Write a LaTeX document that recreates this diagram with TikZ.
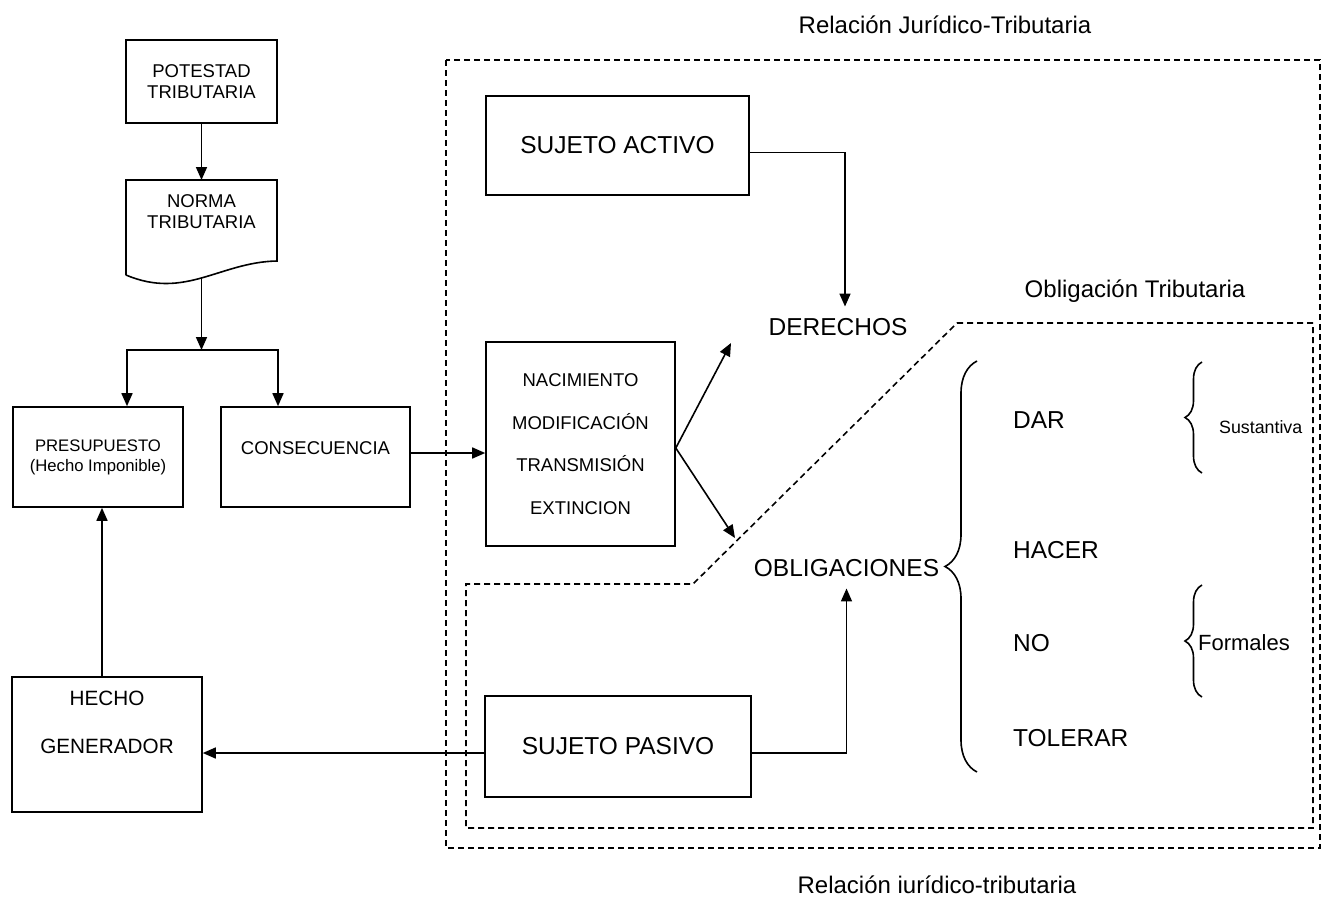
\documentclass[tikz,border=0pt]{standalone}
\usepackage{fontspec}
\setmainfont{Liberation Sans}
\usetikzlibrary{arrows.meta,calc,decorations.pathreplacing}

\begin{document}
\begin{tikzpicture}[x=1pt, y=-1pt, line width=1.6pt,
  box/.style={draw, align=center, inner sep=0pt},
  arr/.style={-{Triangle[length=13pt,width=11pt]}},
  zone/.style={dash pattern=on 6pt off 4pt, line width=1.6pt},
  brc/.style={decorate, decoration={brace, amplitude=#1}},
  word/.style={font=\fontsize{24.5}{29}\selectfont},
  ttl/.style={font=\fontsize{24}{29}\selectfont},
  med/.style={font=\fontsize{18.5}{21}\selectfont}]
  \fill[white] (0,0) rectangle (1323,903);
  \useasboundingbox (0,0) rectangle (1323,903);

  % left column
  \node[box, med, minimum width=151pt, minimum height=83pt] (pot) at (201.5,81.5) {POTESTAD\\TRIBUTARIA};
  \node[med, align=center] (norma) at (201.5,211.5) {NORMA\\TRIBUTARIA};
  \draw (126,275) -- (126,180) -- (277,180) -- (277,261)
    .. controls (220,262) and (185,300) .. (126,275);
  \coordinate (normaTop) at (201.5,180);
  \coordinate (normaBot) at (201.5,277.5);
  \coordinate (split) at (201.5,350);
  \node[box, font=\fontsize{16.7}{20}\selectfont, minimum width=170pt, minimum height=100pt]
    (pres) at (98,457) {PRESUPUESTO\\(Hecho Imponible)};
  \node[box, minimum width=189pt, minimum height=100pt,
    label={[med, yshift=9pt]center:CONSECUENCIA}] (cons) at (315.5,457) {};
  \node[box, minimum width=190pt, minimum height=135pt,
    label={[font=\fontsize{20.7}{48}\selectfont, align=center, yshift=22.5pt]center:{HECHO\\GENERADOR}}]
    (hecho) at (107,744.5) {};

  \draw[arr] (pot.south) -- (normaTop);
  \draw[arr] (normaBot) -- (split);
  \draw[arr] (split) -| ($(pres.north)+(29,0)$);
  \draw[arr] (split) -| ($(cons.north)+(-37.5,0)$);
  \draw[arr] ($(hecho.north)+(-5,0)$) -- ($(pres.south)+(4,0)$);

  % relacion juridico-tributaria
  \draw[zone] (446,60) rectangle (1320,848);
  \draw[zone] (957,323) -- (1313,323) -- (1313,828) -- (466,828) -- (466,584) -- (693,584) -- cycle;
  \node[ttl, anchor=base] (relTop) at (945,33) {Relación Jurídico-Tributaria};
  \node[ttl, anchor=base] (oblTitle) at (1135,297) {Obligación Tributaria};
  \node[ttl, anchor=base] (relBot) at (937,893) {Relación iurídico-tributaria};

  \node[box, word, minimum width=263pt, minimum height=99pt] (sa) at (617.5,145.5) {SUJETO ACTIVO};
  \node[box, word, minimum width=266pt, minimum height=101pt] (sp) at (618,746.5) {SUJETO PASIVO};
  \node[box, font=\fontsize{18.5}{42.7}\selectfont, minimum width=189pt, minimum height=204pt]
    (nac) at (580.5,444) {NACIMIENTO\\MODIFICACIÓN\\TRANSMISIÓN\\EXTINCION};
  \node[word, inner sep=11pt] (der) at (838,327) {DERECHOS};
  \node[word, inner sep=11pt] (obl) at (846.5,568) {OBLIGACIONES};
  \coordinate (derTip) at (731,343);
  \coordinate (oblTip) at (735,538);

  \draw[arr] ($(cons.east)+(0,-4)$) -- ($(nac.west)+(0,9)$);
  \draw[arr] ($(nac.east)+(0,4)$) -- (derTip);
  \draw[arr] ($(nac.east)+(0,4)$) -- (oblTip);
  \draw[arr] ($(sa.east)+(0,7)$) -| ($(der.north)+(7,0)$);
  \draw[arr] ($(sp.east)+(0,6.5)$) -| (obl.south);
  \draw[arr] ($(sp.west)+(0,6.5)$) -- ($(hecho.east)+(0,8.5)$);

  % obligaciones
  \draw[brc=32pt] (977,772) -- (977,361);
  \foreach \w/\y [count=\i] in {DAR/420, HACER/550, NO/643, TOLERAR/738}
    \node[word, anchor=west] (act\i) at (1009,\y) {\w};
  \draw[brc=17pt] (1202,473) -- (1202,362);
  \draw[brc=17pt] (1202,697) -- (1202,585);
  \node[font=\fontsize{17.8}{21}\selectfont, anchor=west] (sust) at (1215,427) {Sustantiva};
  \node[font=\fontsize{22}{26}\selectfont, anchor=west] (form) at (1194,643) {Formales};
\end{tikzpicture}
\end{document}
